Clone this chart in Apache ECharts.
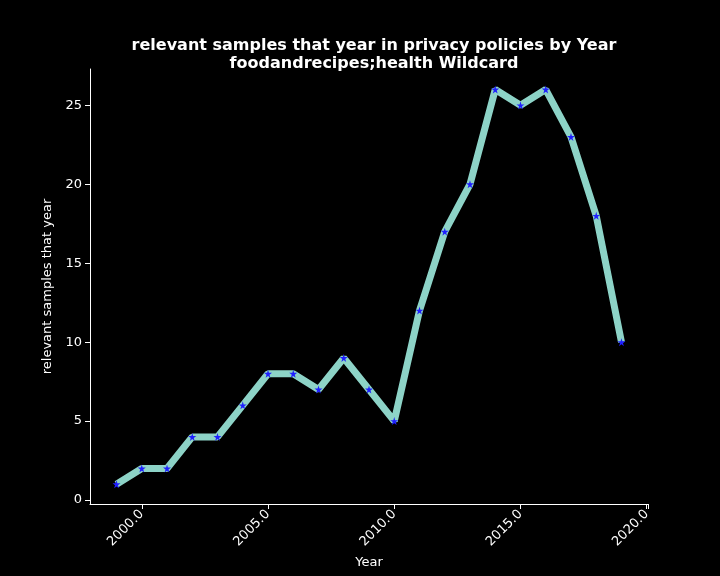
<!DOCTYPE html>
<html>
<head>
<meta charset="utf-8">
<script src="https://cdn.jsdelivr.net/npm/echarts@6/dist/echarts.min.js"></script>
<style>html,body{margin:0;background:#000}#c{width:720px;height:576px}</style>
</head>
<body>
<div id="c"></div>
<script>
const years = [1999,2000,2001,2002,2003,2004,2005,2006,2007,2008,2009,2010,2011,2012,2013,2014,2015,2016,2017,2018,2019];
const samples = [1,2,2,4,4,6,8,8,7,9,7,5,12,17,20,26,25,26,23,18,10];

const chart = echarts.init(document.getElementById('c'));
const txt = { color: '#fff', fontFamily: 'DejaVu Sans', fontSize: 13 };
const line = { lineStyle: { color: '#fff' } };
const onlyNice = step => v => (Math.abs(v / step - Math.round(v / step)) < 1e-6 ? (step === 2.5 ? v.toFixed(1) : String(v)) : '');

chart.setOption({
  backgroundColor: '#000',
  animation: false,
  title: {
    text: 'relevant samples that year in privacy policies by Year\nfoodandrecipes;health Wildcard',
    left: 369, top: 32, textAlign: 'center',
    textStyle: { color: '#fff', fontFamily: 'DejaVu Sans', fontSize: 16, fontWeight: 'bold', lineHeight: 18 }
  },
  grid: { left: 90, right: 72, top: 69, bottom: 72 },
  xAxis: {
    type: 'value', min: 1997.95, max: 2020.05,
    name: 'Year', nameLocation: 'middle', nameGap: 50, nameTextStyle: txt,
    axisLine: { show: true, onZero: false, ...line }, axisTick: { show: true, ...line },
    axisLabel: { ...txt, rotate: 45, formatter: onlyNice(2.5), showMinLabel: false, showMaxLabel: true },
    splitLine: { show: false }, interval: null
  },
  yAxis: {
    type: 'value', min: -0.25, max: 27.3,
    name: 'relevant samples that year', nameLocation: 'middle', nameGap: 35, nameTextStyle: txt,
    axisLine: { show: true, ...line }, axisTick: { show: true, ...line },
    axisLabel: { ...txt, formatter: onlyNice(5), showMinLabel: false, showMaxLabel: false },
    splitLine: { show: false }
  },
  series: [{
    type: 'line',
    data: years.map((y, i) => [y, samples[i]]),
    lineStyle: { color: '#8dd3c7', width: 7 },
    symbol: 'path://M50,0 L61,35 L98,35 L68,57 L79,91 L50,70 L21,91 L32,57 L2,35 L39,35 Z',
    symbolSize: 8,
    itemStyle: { color: '#1f1fff', borderWidth: 0 }
  }]
});
</script>
</body>
</html>
